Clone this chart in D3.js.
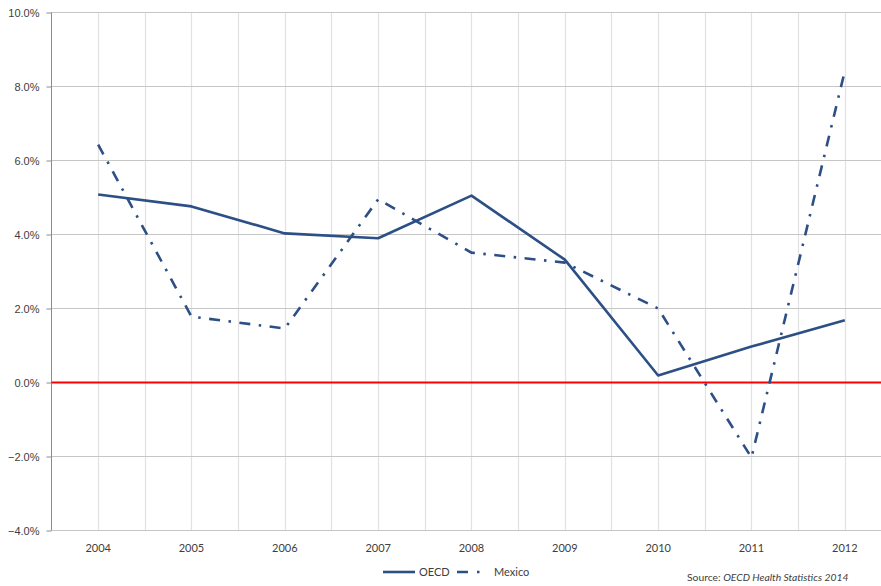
<!DOCTYPE html>
<html>
<head>
<meta charset="utf-8">
<script src="https://cdn.jsdelivr.net/npm/d3@7"></script>
<style>
  body { margin: 0; background: #fff; }
  svg { display: block; font-family: Lato, "Open Sans", sans-serif; }
</style>
</head>
<body>
<div id="chart"></div>
<script>
//-- data
const years = ["2004", "2005", "2006", "2007", "2008", "2009", "2010", "2011", "2012"];
const oecd = [5.08, 4.76, 4.03, 3.9, 5.05, 3.32, 0.19, 0.97, 1.68];
const mexico = [6.43, 1.78, 1.46, 4.95, 3.51, 3.24, 2.0, -2.03, 8.42];
const yTicks = [-4, -2, 0, 2, 4, 6, 8, 10];

//-- dimensions
const width = 881, height = 586;
const left = 51.5, bandW = 93.33;
const lineColor = "#2c4f85";

const svg = d3.select("#chart").append("svg")
  .attr("width", width).attr("height", height);

const x = d3.scaleBand().domain(years).range([left, left + bandW * years.length]);
const y = d3.scaleLinear().domain([-4, 10]).range([530.5, 12.5]);
const cx = (d) => x(d) + x.bandwidth() / 2;

//-- vertical grid (centers and boundaries)
const vx = [];
years.forEach((d) => { vx.push(x(d) + x.bandwidth() / 2); vx.push(x(d) + x.bandwidth()); });
svg.append("g").selectAll("line").data(vx).join("line")
  .attr("x1", (d) => Math.round(d) + 0.5).attr("x2", (d) => Math.round(d) + 0.5)
  .attr("y1", y(10)).attr("y2", y(-4))
  .attr("stroke", "#e2e2e2").attr("stroke-width", 1.2);

//-- horizontal grid
svg.append("g").selectAll("line").data(yTicks.filter((d) => d !== 0)).join("line")
  .attr("x1", left).attr("x2", width)
  .attr("y1", (d) => y(d)).attr("y2", (d) => y(d))
  .attr("stroke", "#c6c6c6").attr("stroke-width", 1.2);

//-- y axis
const yAxis = svg.append("g")
  .attr("transform", `translate(${left},0)`)
  .call(d3.axisLeft(y).tickValues(yTicks).tickSize(5).tickPadding(7)
    .tickFormat((d) => d3.format(".1f")(d) + "%"));
yAxis.select(".domain").attr("stroke", "#8c8c8c").attr("d", `M0,${y(10)}V${y(-4)}`);
yAxis.selectAll(".tick line").attr("stroke", "#8c8c8c");
yAxis.selectAll("text").attr("fill", "#404040").style("font-size", "11px");

//-- x labels
svg.append("g").selectAll("text").data(years).join("text")
  .attr("x", cx).attr("y", 552)
  .attr("text-anchor", "middle")
  .attr("fill", "#404040").style("font-size", "11px")
  .text((d) => d);

//-- zero line
svg.append("line")
  .attr("x1", left).attr("x2", width)
  .attr("y1", y(0)).attr("y2", y(0))
  .attr("stroke", "#ff0000").attr("stroke-width", 2);

//-- series
const line = d3.line().x((d, i) => cx(years[i])).y((d) => y(d));
svg.append("path").datum(oecd)
  .attr("d", line).attr("fill", "none")
  .attr("stroke", lineColor).attr("stroke-width", 2.6).attr("stroke-linejoin", "round");
svg.append("path").datum(mexico)
  .attr("d", line).attr("fill", "none")
  .attr("stroke", lineColor).attr("stroke-width", 2.6)
  .attr("stroke-dasharray", "11,8.5,2.5,8.5");

//-- legend
const legend = svg.append("g").attr("transform", "translate(0,572)");
legend.append("line").attr("x1", 383).attr("x2", 415).attr("y1", 0).attr("y2", 0)
  .attr("stroke", lineColor).attr("stroke-width", 2.6);
legend.append("text").attr("x", 419).attr("y", 4)
  .attr("fill", "#404040").style("font-size", "11px").text("OECD");
legend.append("line").attr("x1", 457).attr("x2", 481).attr("y1", 0).attr("y2", 0)
  .attr("stroke", lineColor).attr("stroke-width", 2.6)
  .attr("stroke-dasharray", "11,9,2.5,9");
legend.append("text").attr("x", 494).attr("y", 4)
  .attr("fill", "#404040").style("font-size", "11px").text("Mexico");

//-- source note
const src = svg.append("text").attr("x", 687).attr("y", 581)
  .attr("fill", "#404040").style("font-size", "10.3px");
src.append("tspan").text("Source: ");
src.append("tspan").style("font-style", "italic").text("OECD Health Statistics 2014");
</script>
</body>
</html>
